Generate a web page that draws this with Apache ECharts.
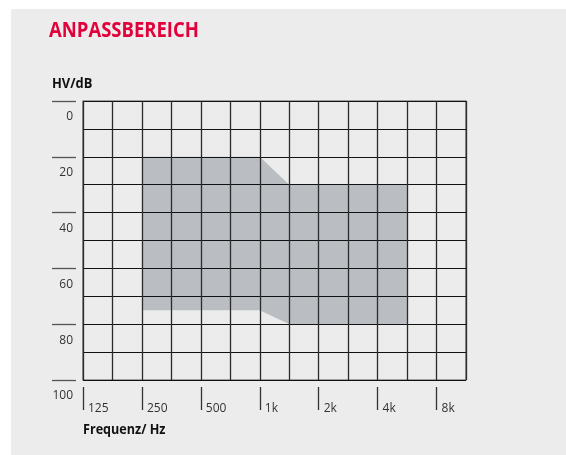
<!DOCTYPE html>
<html>
<head>
<meta charset="utf-8">
<script src="https://cdn.jsdelivr.net/npm/echarts@6/dist/echarts.min.js"></script>
<style>
html,body{margin:0;padding:0;background:#ffffff;}
#wrap{position:absolute;left:11px;top:9px;width:555px;height:446px;background:#ebeceb;}
#chart{position:absolute;left:0;top:0;width:566px;height:455px;}
</style>
</head>
<body>
<div id="wrap"></div>
<div id="chart"></div>
<script>
// Frequency axis: position in octaves above 125 Hz
const freqLabels = ['125', '250', '500', '1k', '2k', '4k', '8k'];
const dbTickStep = 20;
// Fitting range polygon (octave position, dB HL)
const rangeX = [1, 3, 3.5, 5.5];
const rangeTop = [20, 20, 30, 30];
const rangeBottom = [75, 75, 80, 80];

const chart = echarts.init(document.getElementById('chart'), null, {renderer: 'canvas'});
const font = '"Open Sans", "Noto Sans", sans-serif';
const plotL = 83, plotT = 101, plotW = 383, plotH = 279, xMax = 6.5, yMax = 100;

const option = {
  backgroundColor: 'transparent',
  animation: false,
  grid: [
    {left: plotL, top: plotT, width: plotW, height: plotH, show: true, borderColor: '#555', borderWidth: 1.2, backgroundColor: 'transparent'},
    {left: plotL, top: plotT, width: plotW * (freqLabels.length - 1) / xMax, height: plotH, show: false}
  ],
  graphic: [
    {type: 'text', x: 49, y: 31, scaleX: 0.88, style: {text: 'ANPASSBEREICH', fill: '#e2003b', fontFamily: font, fontWeight: 'bold', fontSize: 21, verticalAlign: 'middle'}},
    {type: 'text', x: 52, y: 84, scaleX: 0.86, style: {text: 'HV/dB', fill: '#111', fontFamily: font, fontWeight: 'bold', fontSize: 15, verticalAlign: 'middle'}},
    {type: 'text', x: 83, y: 430, scaleX: 0.84, style: {text: 'Frequenz/ Hz', fill: '#111', fontFamily: font, fontWeight: 'bold', fontSize: 15, verticalAlign: 'middle'}}
  ],
  xAxis: [
    {
      gridIndex: 0, type: 'value', min: 0, max: xMax, interval: 0.5, z: 5,
      axisLine: {show: false, onZero: false}, axisTick: {show: false}, axisLabel: {show: false},
      splitLine: {show: true, lineStyle: {color: '#2b2b2b', width: 1.3}}
    },
    {
      gridIndex: 1, type: 'value', min: 0, max: freqLabels.length - 1, interval: 1, position: 'bottom', offset: 7, z: 5,
      axisLine: {show: false, onZero: false},
      axisTick: {show: true, inside: false, length: 23, lineStyle: {color: '#333', width: 1.3}},
      axisLabel: {show: true, showMinLabel: true, showMaxLabel: true, margin: 16, align: 'left', padding: [0, 0, 0, 5],
        color: '#333', fontFamily: font, fontSize: 12,
        formatter: v => freqLabels[Math.round(v)] || ''},
      splitLine: {show: false}
    }
  ],
  yAxis: [
    {
      gridIndex: 0, type: 'value', min: 0, max: yMax, interval: 10, inverse: true, z: 5,
      axisLine: {show: false, onZero: false}, axisTick: {show: false}, axisLabel: {show: false},
      splitLine: {show: true, lineStyle: {color: '#111', width: 1.1}}
    },
    {
      gridIndex: 0, type: 'value', min: 0, max: yMax, interval: dbTickStep, inverse: true, position: 'left', offset: 7, z: 5,
      axisLine: {show: false, onZero: false},
      axisTick: {show: true, inside: false, length: 24, lineStyle: {color: '#555', width: 1.3}},
      axisLabel: {show: true, showMinLabel: true, showMaxLabel: true, margin: 3, verticalAlign: 'top', padding: [10, 0, 0, 0],
        color: '#333', fontFamily: font, fontSize: 12},
      splitLine: {show: false}
    },
    {gridIndex: 1, type: 'value', min: 0, max: yMax, show: false, axisLine: {onZero: false}}
  ],
  series: [{
    type: 'custom', xAxisIndex: 0, yAxisIndex: 0, z: 1, silent: true,
    data: [0],
    renderItem: function (params, api) {
      const pts = [];
      for (let i = 0; i < rangeX.length; i++) pts.push(api.coord([rangeX[i], rangeTop[i]]));
      for (let i = rangeX.length - 1; i >= 0; i--) pts.push(api.coord([rangeX[i], rangeBottom[i]]));
      return {type: 'polygon', shape: {points: pts}, style: {fill: '#babec2'}};
    }
  }]
};
chart.setOption(option);
</script>
</body>
</html>
